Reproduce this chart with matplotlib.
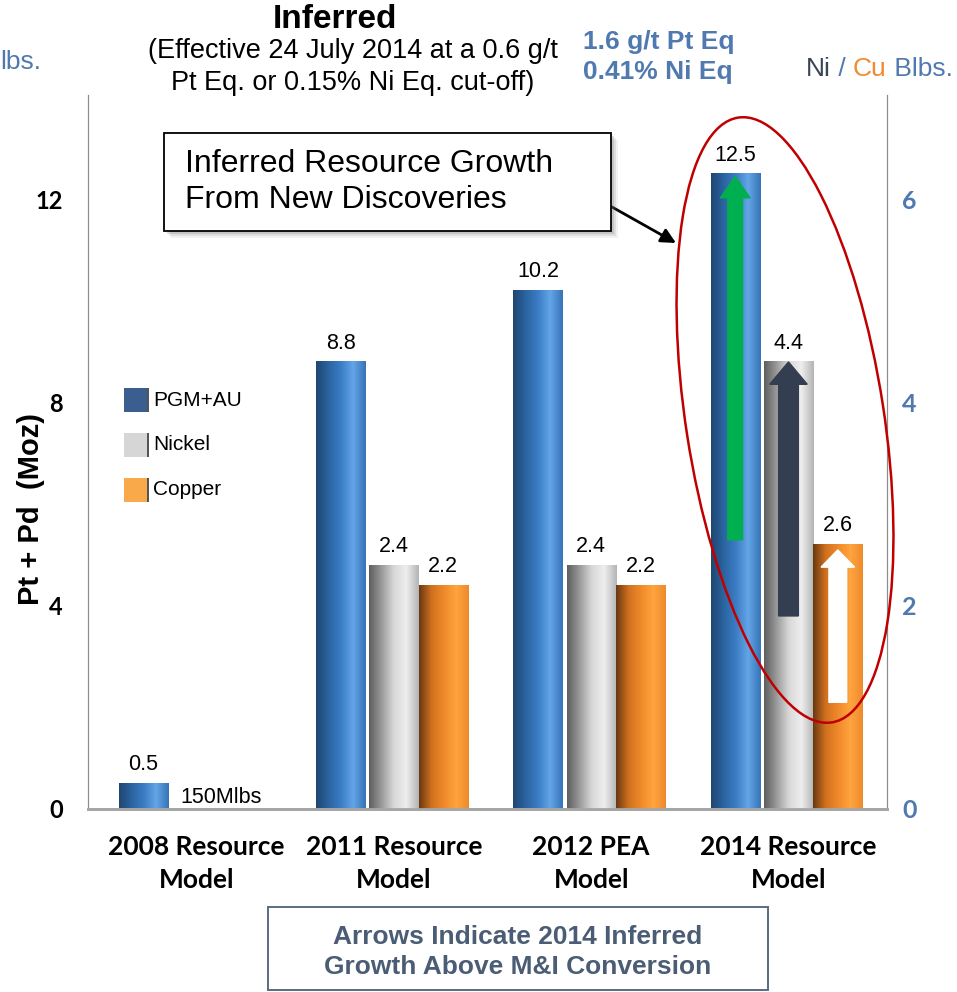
import numpy as np
import matplotlib.pyplot as plt
from matplotlib.colors import LinearSegmentedColormap
from matplotlib.patches import Ellipse, Rectangle, FancyArrow

plt.rcParams['font.family'] = ['Liberation Sans', 'DejaVu Sans']

# --- data ---
categories = ["2008 Resource\nModel", "2011 Resource\nModel", "2012 PEA\nModel", "2014 Resource\nModel"]
pgm_moz = [0.5, 8.8, 10.2, 12.5]          # left axis, Moz Pt+Pd
nickel_blbs = [None, 2.4, 2.4, 4.4]       # right axis, Blbs
copper_blbs = [None, 2.2, 2.2, 2.6]       # right axis, Blbs
legend_names = ["PGM+AU", "Nickel", "Copper"]
left_ticks = [0, 4, 8, 12]
right_ticks = [0, 2, 4, 6]

# 2014 inferred growth above M&I conversion (start, end)
pgm_growth = (5.3, 12.45)
nickel_growth = (1.9, 4.4)
copper_growth = (1.05, 2.55)

BLUE_TXT = '#5079b0'
SLATE = '#4b5d75'

blue_cm = LinearSegmentedColormap.from_list('b', ['#1f4670', '#2b64a0', '#3b7dc4', '#63a5e6', '#3673b8'])
gray_cm = LinearSegmentedColormap.from_list('g', ['#5e5e5e', '#9a9a9a', '#d8d8d8', '#eeeeee', '#b4b4b4'])
orange_cm = LinearSegmentedColormap.from_list('o', ['#6a3912', '#d0711f', '#f0892b', '#ffa43e', '#ee8a2c'])
legend_colors = ['#3a5f8f', '#d6d6d6', '#f9a84a']

fig = plt.figure(figsize=(9.57, 9.92), dpi=100)
ax = fig.add_axes([0.092, 0.1845, 0.835, 0.7195])
ax2 = ax.twinx()

x = np.arange(len(categories))
w = 0.25
off_pgm, off_ni, off_cu = -0.27, 0.0, 0.25
grad = np.linspace(0, 1, 128).reshape(1, -1)


def gradient_bar(axis, xc, h, cmap):
    axis.imshow(grad, extent=(xc - w / 2, xc + w / 2, 0, h), aspect='auto',
                cmap=cmap, zorder=2, interpolation='bilinear')


for i, v in enumerate(pgm_moz):
    gradient_bar(ax, x[i] + off_pgm, v, blue_cm)
    ax.annotate(f"{v}", (x[i] + off_pgm, v), xytext=(0, 6), textcoords='offset points',
                ha='center', va='bottom', fontsize=15.5)

for vals, off, cm in [(nickel_blbs, off_ni, gray_cm), (copper_blbs, off_cu, orange_cm)]:
    for i, v in enumerate(vals):
        if v is None:
            continue
        gradient_bar(ax2, x[i] + off, v, cm)
        ax2.annotate(f"{v}", (x[i] + off, v), xytext=(0, 6), textcoords='offset points',
                     ha='center', va='bottom', fontsize=15.5)

ax2.annotate("150Mlbs", ((off_ni + off_cu) / 2, 0), xytext=(0, 1), textcoords='offset points',
             ha='center', va='bottom', fontsize=15.5)

# growth arrows on the 2014 bars
ax.add_patch(FancyArrow(x[3] + off_pgm, pgm_growth[0], 0, pgm_growth[1] - pgm_growth[0],
                        width=0.075, head_width=0.15, head_length=0.42,
                        length_includes_head=True, color='#00b050', zorder=4))
ax2.add_patch(FancyArrow(x[3] + off_ni, nickel_growth[0], 0, nickel_growth[1] - nickel_growth[0],
                         width=0.1, head_width=0.19, head_length=0.22,
                         length_includes_head=True, color='#333f50', zorder=4))
ax2.add_patch(FancyArrow(x[3] + off_cu, copper_growth[0], 0, copper_growth[1] - copper_growth[0],
                         width=0.09, head_width=0.17, head_length=0.17,
                         length_includes_head=True, color='white', zorder=4))

ax.set_xlim(-0.55, 3.5)
ax.set_ylim(0, 14.05)
ax2.set_ylim(0, 7.025)
ax2.set_xlim(-0.55, 3.5)

ax.set_xticks(x)
ax.set_xticklabels(categories, fontfamily='Lato', fontweight='bold', fontsize=19, linespacing=1.45)
ax.set_yticks(left_ticks)
ax.set_yticklabels([str(t) for t in left_ticks], fontfamily='Lato', fontweight='bold', fontsize=17)
ax2.set_yticks(right_ticks)
ax2.set_yticklabels([str(t) for t in right_ticks], fontfamily='Lato', fontweight='bold',
                    fontsize=18, color=BLUE_TXT)
ax.tick_params(axis='x', length=0, pad=19)
ax.tick_params(axis='y', length=0, pad=18)
ax2.tick_params(axis='y', length=0, pad=11)

for a in (ax, ax2):
    a.spines['top'].set_visible(False)
    a.spines['left'].set_color('#8c8c8c')
    a.spines['right'].set_color('#8c8c8c')
    a.spines['bottom'].set_color('#a6a6a6')
    a.spines['bottom'].set_linewidth(2)
    a.patch.set_visible(False)

ax.text(-0.072, 0.42, "Pt + Pd  (Moz)", transform=ax.transAxes, rotation=90,
        ha='center', va='center', fontsize=21, fontweight='bold')

# legend squares
for k, (name, col) in enumerate(zip(legend_names, legend_colors)):
    yc = 1 - (400 + k * 45) / 992
    fig.patches.append(Rectangle((124 / 957, yc - 12 / 992), 23 / 957, 24 / 992,
                                 transform=fig.transFigure, facecolor=col,
                                 edgecolor='none', zorder=5))
    fig.patches.append(Rectangle((147 / 957, yc - 12 / 992), 1.5 / 957, 24 / 992,
                                 transform=fig.transFigure, facecolor='#555555',
                                 edgecolor='none', zorder=5))
    fig.text(153 / 957, yc, name, ha='left', va='center', fontsize=15)

# titles
fig.text(335 / 957, 1 - 20 / 992, "Inferred", ha='center', va='center', fontsize=24, fontweight='bold')
fig.text(353 / 957, 1 - 67 / 992, "(Effective 24 July 2014 at a 0.6 g/t\nPt Eq. or 0.15% Ni Eq. cut-off)",
         ha='center', va='center', fontsize=19.5, linespacing=1.3)
fig.text(583 / 957, 1 - 57 / 992, "1.6 g/t Pt Eq\n0.41% Ni Eq", ha='left', va='center',
         fontsize=19, fontweight='bold', color=BLUE_TXT, linespacing=1.3)
fig.text(0, 1 - 62 / 992, "lbs.", ha='left', va='center', fontsize=19, color=BLUE_TXT)

# right axis unit label in three colours
t1 = fig.text(806 / 957, 1 - 69 / 992, "Ni", ha='left', va='center', fontsize=19, color='#3a4556')
fig.canvas.draw()
r = fig.canvas.get_renderer()
xpos = t1.get_window_extent(r).x1
for part, col in [(" / ", BLUE_TXT), ("Cu", '#f28a30'), (" Blbs.", BLUE_TXT)]:
    t = fig.text(xpos / fig.bbox.width, 1 - 69 / 992, part, ha='left', va='center', fontsize=19, color=col)
    xpos = t.get_window_extent(r).x1

# callout box with soft shadow
for s, a in [(7, 0.10), (5, 0.15), (3, 0.25)]:
    fig.patches.append(Rectangle(((164 + s) / 957, 1 - (231 + s) / 992), 447 / 957, 98 / 992,
                                 transform=fig.transFigure, facecolor='#777777', alpha=a,
                                 edgecolor='none', zorder=5))
fig.patches.append(Rectangle((164 / 957, 1 - 231 / 992), 447 / 957, 98 / 992,
                             transform=fig.transFigure, facecolor='white',
                             edgecolor='black', lw=1.3, zorder=6))
fig.text(185 / 957, 1 - 182 / 992, "Inferred Resource Growth\nFrom New Discoveries",
         ha='left', va='center', fontsize=23, linespacing=1.25, zorder=7)
fig.add_artist(plt.Annotation('', xy=(676 / 957, 1 - 243 / 992), xycoords='figure fraction',
                              xytext=(612 / 957, 1 - 207 / 992), textcoords='figure fraction',
                              arrowprops=dict(arrowstyle='-|>', color='black', lw=2,
                                              mutation_scale=22, shrinkA=0, shrinkB=0)))

# red ellipse around the 2014 group
fig.patches.append(Ellipse((7.85, 9.92 - 4.2), 1.98, 6.12, angle=8.8,
                           transform=fig.dpi_scale_trans, facecolor='none',
                           edgecolor='#c00000', lw=1.8, zorder=8))

# bottom note box
fig.patches.append(Rectangle((268 / 957, 1 - 990 / 992), 500 / 957, 83 / 992,
                             transform=fig.transFigure, facecolor='white',
                             edgecolor='#5a6b80', lw=1.4, zorder=5))
fig.text(518 / 957, 1 - 952 / 992, "Arrows Indicate 2014 Inferred\nGrowth Above M&I Conversion",
         ha='center', va='center', fontsize=19, fontweight='bold', color=SLATE,
         linespacing=1.3, zorder=6)

fig.savefig('out.png', dpi=100)
